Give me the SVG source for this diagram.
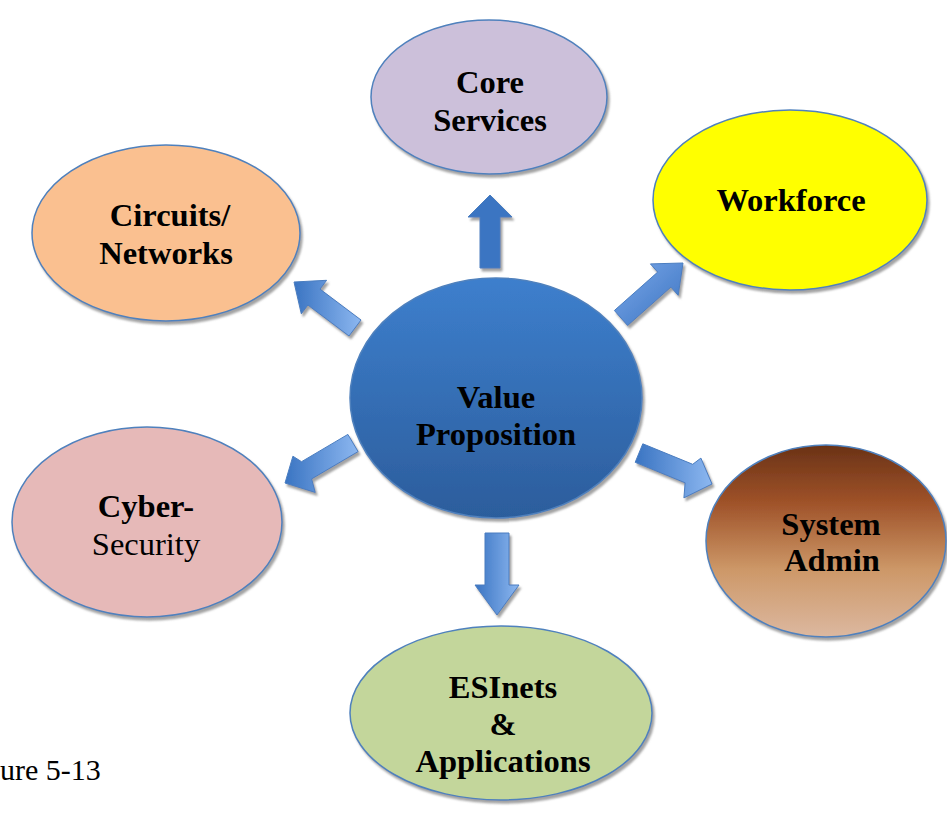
<svg xmlns="http://www.w3.org/2000/svg" width="947" height="814" viewBox="0 0 947 814">
<defs>
<filter id="sh" x="-10%" y="-10%" width="125%" height="125%">
<feGaussianBlur in="SourceAlpha" stdDeviation="1"/>
<feOffset dx="2" dy="3" result="o"/>
<feFlood flood-color="#8c8c8c" flood-opacity="0.8"/>
<feComposite in2="o" operator="in"/>
<feMerge><feMergeNode/><feMergeNode in="SourceGraphic"/></feMerge>
</filter>
<linearGradient id="gc" x1="0" y1="0" x2="0" y2="1">
<stop offset="0" stop-color="#3d7fcd"/>
<stop offset="1" stop-color="#2c5d9c"/>
</linearGradient>
<linearGradient id="gs" x1="0" y1="0" x2="0" y2="1">
<stop offset="0" stop-color="#6a3216"/>
<stop offset="0.3" stop-color="#9f5229"/>
<stop offset="0.65" stop-color="#cd9868"/>
<stop offset="1" stop-color="#dcb8a0"/>
</linearGradient>
<linearGradient id="ga" x1="0" y1="0" x2="1" y2="0">
<stop offset="0" stop-color="#3a74c2"/>
<stop offset="1" stop-color="#8cb7f0"/>
</linearGradient>
<linearGradient id="ga2" x1="0" y1="0" x2="1" y2="1">
<stop offset="0" stop-color="#7aa8ea"/>
<stop offset="1" stop-color="#3b73c0"/>
</linearGradient>
</defs>
<style>
.n{stroke:#4f81bd;stroke-width:1.5;filter:url(#sh)}
.a{stroke:#4a7dc0;stroke-width:1;filter:url(#sh)}
.t{font-family:"Liberation Serif","Times New Roman",serif;font-size:32.5px;font-weight:bold;text-anchor:middle;fill:#000}
.r{font-weight:normal}
.f{font-family:"Liberation Serif","Times New Roman",serif;font-size:30px;fill:#000}
</style>
<g id="connectors">
<polygon class="a" fill="#3a74c2" points="480,268 480,217 468,217 490,195 512,217 500,217 500,268"/>
<polygon class="a" fill="url(#ga2)" points="627.6,325.5 670.9,287.1 678.2,295.3 683,263 650.4,263.9 657.7,272.1 614.4,310.5"/>
<polygon class="a" fill="url(#ga)" points="361,320 320,289.1 326.6,280.3 294,282 301.3,313.8 307.9,305 349,336"/>
<polygon class="a" fill="url(#ga)" points="358.1,451.6 311.6,478.9 315.2,492.4 285,483 292.9,456.2 301.5,461.7 347.9,434.4"/>
<polygon class="a" fill="url(#ga)" points="635.2,462.3 685.1,482.8 683.9,497.9 712,484 700.9,458.1 692.7,464.3 642.8,443.8"/>
<polygon class="a" fill="url(#ga)" points="485,533 509,533 509,585 519,585 497,615 475,585 485,585"/>
</g>
<g id="core">
<ellipse class="n" cx="489" cy="97" rx="118" ry="77" fill="#ccc0da"/>
<text class="t" x="490" y="93">Core</text>
<text class="t" x="490" y="131">Services</text>
</g>
<g id="workforce">
<ellipse class="n" cx="790" cy="200" rx="137" ry="90" fill="#ffff00"/>
<text class="t" x="791" y="211">Workforce</text>
</g>
<g id="circuits">
<ellipse class="n" cx="166" cy="233" rx="134" ry="88" fill="#fac090"/>
<text class="t" x="170" y="226">Circuits/</text>
<text class="t" x="166" y="264">Networks</text>
</g>
<g id="value">
<ellipse class="n" cx="496" cy="398" rx="146" ry="120" fill="url(#gc)"/>
<text class="t" x="496" y="408">Value</text>
<text class="t" x="496" y="445">Proposition</text>
</g>
<g id="cyber">
<ellipse class="n" cx="147" cy="522" rx="135" ry="95" fill="#e6b9b8"/>
<text class="t" x="146" y="517">Cyber-</text>
<text class="t r" x="146" y="555">Security</text>
</g>
<g id="sysadmin">
<ellipse class="n" cx="826" cy="541" rx="120" ry="96" fill="url(#gs)"/>
<text class="t" x="831" y="535">System</text>
<text class="t" x="832" y="571">Admin</text>
</g>
<g id="esinets">
<ellipse class="n" cx="501" cy="713" rx="151" ry="87" fill="#c3d69b"/>
<text class="t" x="503" y="698">ESInets</text>
<text class="t" x="503" y="735">&amp;</text>
<text class="t" x="503" y="772">Applications</text>
</g>
<text class="f" x="0" y="780">ure 5-13</text>
</svg>
